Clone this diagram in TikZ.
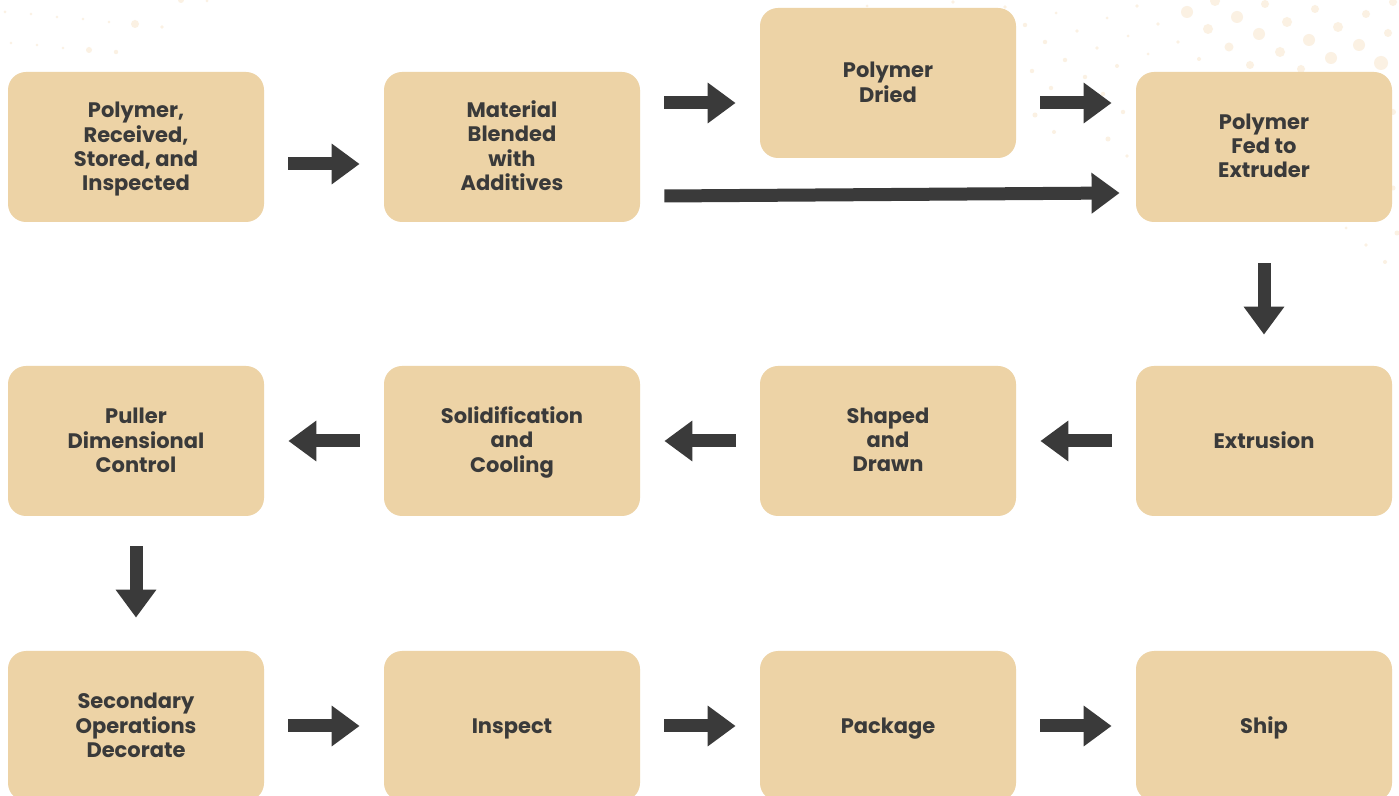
\documentclass[tikz,border=0pt]{standalone}
\usepackage{fontspec}
\setmainfont{Poppins}
\usetikzlibrary{arrows.meta}
\definecolor{boxfill}{HTML}{EDD3A6}
\definecolor{ink}{HTML}{3A3A3A}
\definecolor{dotc}{HTML}{FBF1E3}
\newcommand\stxt[1]{\raisebox{0pt}[\dimexpr\height+2.2pt\relax][\depth]{\begin{tabular}{@{}c@{}}#1\end{tabular}}}
\tikzset{
  stepbox/.style={fill=boxfill, draw=none, rounded corners=9pt,
    minimum width=128pt, minimum height=75pt, inner sep=0pt,
    text=ink, font=\fontsize{10.5}{12}\selectfont\bfseries},
  flow/.style={draw=ink, line width=6.5pt,
    -{Triangle[length=14pt,width=19.5pt]}},
  bgdot/.style={fill=dotc, draw=none}
}
\begin{document}
\begin{tikzpicture}[x=0.5pt,y=-0.5pt]
\useasboundingbox (0,0) rectangle (1399,796);
\fill[white] (0,0) rectangle (1399,796);
% faint background dots
\foreach \px/\py/\r in {
 1187/12/6, 1208/29/5, 1237/17/6, 1259/34/6, 1287/22/5, 1309/40/6, 1315/9/4,
 1338/27/5, 1331/58/6, 1359/45/6, 1366/14/4, 1381/63/7, 1388/33/4, 1229/47/4.5,
 1280/52/5, 1250/65/4, 1265/4/4, 1215/1/5, 1393/2/4, 1301/69/4,
 1137/6/1.8, 1158/24/1.8, 1178/42/1.8, 1199/59/2, 1128/36/1.5, 1148/54/1.5,
 1107/18/1.5, 1097/48/1.8, 1117/66/2, 1077/31/1.8, 1056/13/1.5, 1065/60/2.2,
 1045/42/2.2, 1025/25/2.2, 1032/71/2.2, 1051/88/2.2, 1035/115/2.5, 1054/132/2,
 1108/139/2.5, 1123/112/2.2, 1103/94/2.2, 1085/77/2.2, 1005/7/1.8, 953/2/1.8,
 867/6/1.5, 1127/156/1.8, 1393/112/3, 1397/233/2.5, 1385/262/2, 1366/245/1.8,
 1346/228/1.5, 1393/188/2.5,
 135/24/4, 89/50/3, 116/52/2.2, 181/0/3, 162/27/1.8, 207/1/1.5, 5/12/1.5,
 31/14/1.3, 57/17/1.3, 83/19/1.3, 109/22/1.3, 11/43/1.3, 37/45/1.3, 63/48/1.3}
 {\fill[bgdot] (\px,\py) circle[radius=\r];}
% boxes
\node[stepbox] (b1) at (136,147) {\stxt{Polymer,\\Received,\\Stored, and\\Inspected}};
\node[stepbox] (b2) at (512,147) {\stxt{Material\\Blended\\with\\Additives}};
\node[stepbox] (b3) at (888,83) {\stxt{Polymer\\Dried}};
\node[stepbox] (b4) at (1264,147) {\stxt{Polymer\\Fed to\\Extruder}};
\node[stepbox] (b5) at (1264,441) {\stxt{Extrusion}};
\node[stepbox] (b6) at (888,441) {\stxt{Shaped\\and\\Drawn}};
\node[stepbox] (b7) at (512,441) {\stxt{Solidification\\and\\Cooling}};
\node[stepbox] (b8) at (136,441) {\stxt{Puller\\Dimensional\\Control}};
\node[stepbox] (b9) at (136,726) {\stxt{Secondary\\Operations\\Decorate}};
\node[stepbox] (b10) at (512,726) {\stxt{Inspect}};
\node[stepbox] (b11) at (888,726) {\stxt{Package}};
\node[stepbox] (b12) at (1264,726) {\stxt{Ship}};
% connectors
\draw[flow] ([shift={(24,17)}]b1.east) -- ([shift={(-24,17)}]b2.west);
\draw[flow] ([shift={(24,-44)}]b2.east) -- ([shift={(-24,20)}]b3.west);
\draw[flow] ([shift={(24,20)}]b3.east) -- ([shift={(-24,-44)}]b4.west);
\draw[flow] ([shift={(24,49)}]b2.east) -- ([shift={(-16,46)}]b4.west);
\draw[flow] ([shift={(0,41)}]b4.south) -- ([shift={(0,-31)}]b5.north);
\draw[flow] ([shift={(-24,0)}]b5.west) -- ([shift={(24,0)}]b6.east);
\draw[flow] ([shift={(-24,0)}]b6.west) -- ([shift={(24,0)}]b7.east);
\draw[flow] ([shift={(-24,0)}]b7.west) -- ([shift={(24,0)}]b8.east);
\draw[flow] ([shift={(0,30)}]b8.south) -- ([shift={(0,-33)}]b9.north);
\draw[flow] ([shift={(24,0)}]b9.east) -- ([shift={(-24,0)}]b10.west);
\draw[flow] ([shift={(24,0)}]b10.east) -- ([shift={(-24,0)}]b11.west);
\draw[flow] ([shift={(24,0)}]b11.east) -- ([shift={(-24,0)}]b12.west);
\end{tikzpicture}
\end{document}
